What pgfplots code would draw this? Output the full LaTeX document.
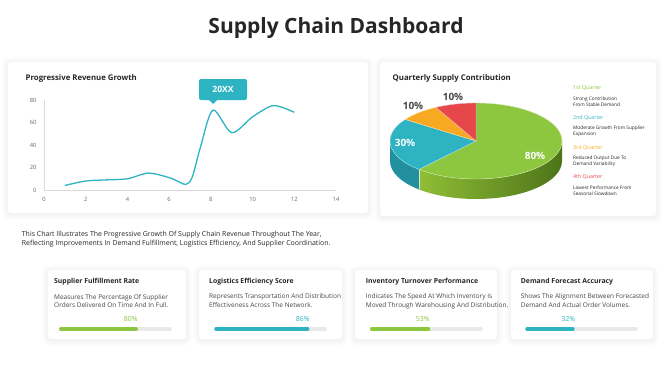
\documentclass[border=0pt]{standalone}
\usepackage{pgfplots}
\pgfplotsset{compat=1.18}
\usepackage{fontspec}
\setmainfont{Open Sans}
\definecolor{tealc}{HTML}{2EB3C3}
\definecolor{greenc}{HTML}{8DC63F}
\definecolor{orangec}{HTML}{F8A922}
\definecolor{redc}{HTML}{E6474A}
\definecolor{txt}{HTML}{262626}
\definecolor{tealside}{HTML}{2390A0}
\definecolor{greensideL}{HTML}{8FBE36}
\definecolor{greensideR}{HTML}{4D7419}
\definecolor{track}{HTML}{E9E9E9}
\newcommand{\fs}[1]{\fontsize{#1pt}{1.2\dimexpr#1pt\relax}\selectfont}
% pie data
\def\vA{80}\def\vB{30}\def\vC{10}\def\vD{10}
\pgfmathsetmacro\tot{\vA+\vB+\vC+\vD}
\pgfmathsetmacro\aG{90-\vA/\tot*360}
\pgfmathsetmacro\aT{\aG-\vB/\tot*360}
\pgfmathsetmacro\aO{\aT-\vC/\tot*360}
\newcommand{\progbar}[4]{%
\begin{axis}[at={(#1pt,#2pt)}, anchor=west, hide axis, x=1.092pt, y=1pt,
  xmin=0, xmax=100, ymin=-1, ymax=1, clip=false]
\addplot[line width=3.5pt, line cap=round, color=track] coordinates {(0,0) (100,0)};
\addplot[line width=3.5pt, line cap=round, color=#4] coordinates {(0,0) (#3,0)};
\end{axis}}
\newcommand{\card}[4]{%
  \foreach \i in {1,...,6}{\fill[black, opacity=0.009, rounded corners={3pt+\i pt}] ({#1-\i},{#2-\i+1}) rectangle ({#3+\i},{#4+\i+1});}
  \fill[white, rounded corners=3pt] (#1,#2) rectangle (#3,#4);}
\begin{document}
\begin{tikzpicture}
\path[use as bounding box, fill=white] (0,0) rectangle (670pt,376pt);
\begin{scope}[x=1pt,y=-1pt,shift={(0,376pt)}]
\card{8}{62}{368}{213}
\card{380}{62}{656}{216}
\card{48}{270}{186}{339}
\card{199}{270}{342}{339}
\card{355}{270}{497}{339}
\card{511}{270}{653}{339}
% titles
\node[font=\fs{21}\bfseries, text=txt] at (336,28) {Supply Chain Dashboard};
\node[anchor=west, inner sep=0, font=\fs{7.8}\bfseries, text=txt] at (25.5,78) {Progressive Revenue Growth};
\node[anchor=west, inner sep=0, font=\fs{7.8}\bfseries, text=txt] at (392.5,78) {Quarterly Supply Contribution};
% body text
\node[anchor=west, inner sep=0, font=\fs{6.95}, text=txt] at (21.7,235) {This Chart Illustrates The Progressive Growth Of Supply Chain Revenue Throughout The Year,};
\node[anchor=west, inner sep=0, font=\fs{6.95}, text=txt] at (21.7,244) {Reflecting Improvements In Demand Fulfillment, Logistics Efficiency, And Supplier Coordination.};
% callout
\fill[tealc, rounded corners=2pt] (199,79) rectangle (247,100);
\fill[tealc] (208.5,99.5) -- (217.5,99.5) -- (213,104) -- cycle;
\node[font=\fs{8.6}\bfseries, text=white] at (223,89.5) {20XX};
% legend
\foreach \y/\c/\t in {88.3/greenc/1st Quarter, 118/tealc/2nd Quarter, 147.7/orangec/3rd Quarter, 176.7/redc/4th Quarter}
  \node[anchor=west, inner sep=0, font=\fs{5.3}, text=\c] at (573,\y) {\t};
\foreach \y/\t in {99/Strong Contribution, 104.5/From Stable Demand, 128.7/Moderate Growth From Supplier, 134.3/Expansion, 158.3/Reduced Output Due To, 164/Demand Variability, 187.7/Lowest Performance From, 193.5/Seasonal Slowdown}
  \node[anchor=west, inner sep=0, font=\fs{4.75}, text=txt] at (573,\y) {\t};
% cards text
\foreach \x/\t in {54/Supplier Fulfillment Rate, 209/Logistics Efficiency Score, 365.7/Inventory Turnover Performance, 520.7/Demand Forecast Accuracy}
  \node[anchor=west, inner sep=0, font=\fs{6.85}\bfseries, text=txt] at (\x,281.7) {\t};
\foreach \x/\a/\b in {54/Measures The Percentage Of Supplier/Orders Delivered On Time And In Full., 209/Represents Transportation And Distribution/Effectiveness Across The Network., 365.7/Indicates The Speed At Which Inventory Is/Moved Through Warehousing And Distribution., 520.7/Shows The Alignment Between Forecasted/Demand And Actual Order Volumes.}
{\node[anchor=west, inner sep=0, font=\fs{6.5}, text=txt!85] at (\x,297.3) {\a};
 \node[anchor=west, inner sep=0, font=\fs{6.5}, text=txt!85] at (\x,305.5) {\b};}
\foreach \x/\c/\t in {130.7/greenc/80\%, 302.7/tealc/86\%, 422.7/greenc/53\%, 568.3/tealc/32\%}
  \node[font=\fs{7}, text=\c] at (\x,319) {\t};
\end{scope}
% line chart
\begin{axis}[at={(44pt,186pt)}, anchor=south west, x=20.857pt, y=1.125pt,
  xmin=0, xmax=14, ymin=0, ymax=80,
  axis x line*=bottom, axis y line*=left,
  axis line style={draw=black!15, line width=0.6pt},
  xtick={0,2,...,14}, ytick={0,20,...,80},
  tick style={draw=none},
  tick label style={font=\fs{5.8}, text=black!60},
  /pgf/number format/assume math mode=true,
  yticklabel style={xshift=-4pt},
  xticklabel style={yshift=-4pt},
  clip=false]
\addplot[smooth, tension=0.5, color=tealc, line width=1.3pt] coordinates {
 (1,4) (2,8) (3,9) (4,10) (5,15) (6,11) (6.5,7) (6.8,5) (7.1,11) (7.5,38) (8.1,71) (9,51) (10,65) (11,75) (12,69)};
\end{axis}
% pie chart
\begin{axis}[at={(476pt,235pt)}, anchor=center, hide axis, x=1pt, y=1pt,
  xmin=-100, xmax=100, ymin=-70, ymax=70, clip=false]
% sides
\path[left color=greensideL, right color=greensideR]
  (axis cs:{86*cos(\aG)},{38*sin(\aG)}) arc[start angle=\aG, end angle=0, x radius=86pt, y radius=38pt]
  -- ++(0pt,-20pt) arc[start angle=0, end angle=\aG, x radius=86pt, y radius=38pt] -- cycle;
\fill[tealside]
  (axis cs:-86,0) arc[start angle=-180, end angle=\aG, x radius=86pt, y radius=38pt]
  -- ++(0pt,-20pt) arc[start angle=\aG, end angle=-180, x radius=86pt, y radius=38pt] -- cycle;
\draw[white!70!greensideL, line width=0.4pt] (axis cs:{86*cos(\aG)},{38*sin(\aG)}) -- ++(0pt,-20pt);
% top
\filldraw[fill=greenc, draw=white!60!greenc, line width=0.4pt] (axis cs:0,0) -- (axis cs:0,38)
  arc[start angle=90, end angle=\aG, x radius=86pt, y radius=38pt] -- cycle;
\filldraw[fill=tealc, draw=white!60!tealc, line width=0.4pt] (axis cs:0,0) -- (axis cs:{86*cos(\aG)},{38*sin(\aG)})
  arc[start angle=\aG, end angle=\aT, x radius=86pt, y radius=38pt] -- cycle;
\filldraw[fill=orangec, draw=white!60!orangec, line width=0.4pt] (axis cs:0,0) -- (axis cs:{86*cos(\aT)},{38*sin(\aT)})
  arc[start angle=\aT, end angle=\aO, x radius=86pt, y radius=38pt] -- cycle;
\filldraw[fill=redc, draw=white!60!redc, line width=0.4pt] (axis cs:0,0) -- (axis cs:{86*cos(\aO)},{38*sin(\aO)})
  arc[start angle=\aO, end angle=-270, x radius=86pt, y radius=38pt] -- cycle;
\node[font=\fs{10}\bfseries, text=white] at (axis cs:59,-15) {80\%};
\node[font=\fs{10}\bfseries, text=white] at (axis cs:-71,-2) {30\%};
\node[font=\fs{10}\bfseries, text=txt!85] at (axis cs:-63,35) {10\%};
\node[font=\fs{10}\bfseries, text=txt!85] at (axis cs:-23,44) {10\%};
\end{axis}
% progress bars
\progbar{60.75}{47}{69}{greenc}
\progbar{216}{47}{84}{tealc}
\progbar{371.75}{47}{52}{greenc}
\progbar{527}{47}{42}{tealc}
\end{tikzpicture}
\end{document}
